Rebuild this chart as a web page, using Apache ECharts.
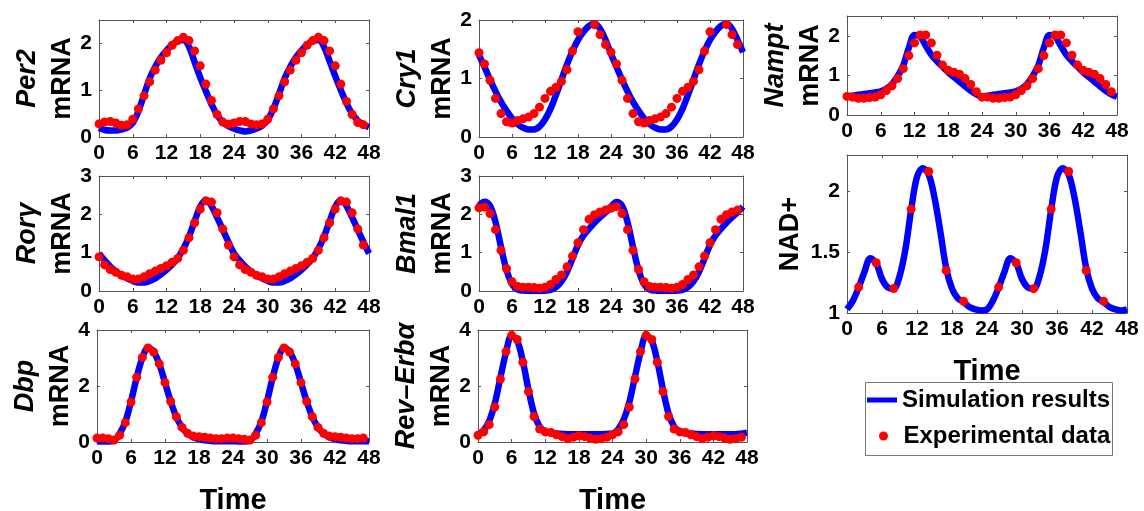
<!DOCTYPE html>
<html><head><meta charset="utf-8">
<script src="https://cdn.jsdelivr.net/npm/echarts@6/dist/echarts.min.js"></script>
<style>html,body{margin:0;padding:0;background:#fff}#c{width:1144px;height:511px}</style>
</head><body><div id="c"></div><script>
// ---- data ----
const simHours = [0,1,2,3,4,5,6,7,8,9,10,11,12,13,14,15,16,17,18,19,20,21,22,23,24,25,26,27,28,29,30,31,32,33,34,35,36,37,38,39,40,41,42,43,44,45,46,47,48];
const expHours = [0,1,2,3,4,5,6,7,8,9,10,11,12,13,14,15,16,17,18,19,20,21,22,23,24,25,26,27,28,29,30,31,32,33,34,35,36,37,38,39,40,41,42,43,44,45,46,47];
const cry1ExpHours = [0,1,2,3,4,5,6,7,8,9,10,11,12,13,14,15,16,17,18,21,22,23,24,25,26,27,28,29,30,31,32,33,34,35,36,37,38,39,40,41,42,45,46,47];
const nadExpHours = [2,5,8,11,14,17,20,23,26,29,32,35,38,41,44,47];
const xTicks = [0,6,12,18,24,30,36,42,48];

const per2Sim = [0.19,0.15,0.14,0.14,0.16,0.2,0.3,0.55,0.9,1.25,1.5,1.7,1.85,1.97,2.05,2.07,1.93,1.6,1.27,0.98,0.7,0.47,0.32,0.23,0.18,0.14,0.12,0.14,0.18,0.24,0.37,0.6,0.92,1.25,1.5,1.7,1.85,1.97,2.05,2.07,1.93,1.62,1.3,1.0,0.72,0.5,0.35,0.27,0.21];
const per2Exp = [0.28,0.32,0.33,0.30,0.25,0.26,0.38,0.6,0.88,1.18,1.43,1.64,1.8,1.96,2.06,2.13,2.06,1.84,1.52,1.13,0.78,0.48,0.32,0.27,0.30,0.33,0.33,0.28,0.26,0.28,0.38,0.6,0.88,1.18,1.43,1.64,1.8,1.96,2.06,2.13,2.06,1.84,1.52,1.13,0.76,0.48,0.31,0.26];

const cry1Sim = [1.40,1.2,0.98,0.78,0.6,0.45,0.32,0.22,0.16,0.13,0.13,0.18,0.3,0.48,0.72,0.98,1.24,1.47,1.66,1.8,1.9,1.94,1.85,1.66,1.42,1.2,0.98,0.78,0.6,0.45,0.32,0.22,0.16,0.13,0.13,0.18,0.3,0.48,0.72,0.98,1.24,1.47,1.66,1.8,1.9,1.94,1.85,1.66,1.45];
const cry1Exp = [1.44,1.25,0.97,0.66,0.40,0.26,0.24,0.28,0.31,0.34,0.40,0.51,0.66,0.78,0.85,0.95,1.15,1.47,1.80,1.92,1.75,1.58,1.45,1.25,0.97,0.66,0.40,0.26,0.24,0.28,0.31,0.34,0.40,0.51,0.66,0.78,0.85,0.95,1.15,1.47,1.80,1.92,1.75,1.58];

const namptSim = [0.47,0.49,0.51,0.53,0.55,0.57,0.6,0.66,0.78,0.98,1.25,1.7,2.02,1.98,1.75,1.52,1.36,1.22,1.08,0.96,0.84,0.72,0.61,0.52,0.47,0.49,0.51,0.53,0.55,0.57,0.6,0.66,0.78,0.98,1.25,1.7,2.02,1.98,1.75,1.52,1.36,1.22,1.08,0.96,0.84,0.72,0.61,0.52,0.46];
const namptExp = [0.47,0.45,0.42,0.42,0.44,0.45,0.51,0.62,0.74,0.92,1.17,1.5,1.82,2.02,2.02,1.82,1.51,1.26,1.13,1.08,1.03,0.92,0.77,0.59,0.45,0.45,0.42,0.42,0.44,0.45,0.51,0.62,0.74,0.92,1.17,1.5,1.82,2.02,2.02,1.82,1.51,1.26,1.13,1.08,1.03,0.92,0.77,0.59];

const rorgSim = [0.98,0.8,0.64,0.51,0.41,0.33,0.26,0.22,0.22,0.26,0.33,0.43,0.55,0.69,0.86,1.1,1.42,1.82,2.2,2.38,2.22,1.92,1.6,1.28,0.98,0.8,0.64,0.51,0.41,0.33,0.26,0.22,0.22,0.26,0.33,0.43,0.55,0.69,0.86,1.1,1.42,1.82,2.2,2.38,2.22,1.92,1.6,1.28,0.98];
const rorgExp = [0.89,0.68,0.56,0.49,0.41,0.37,0.31,0.31,0.37,0.45,0.52,0.59,0.66,0.75,0.85,1.06,1.39,1.78,2.14,2.35,2.32,2.04,1.62,1.2,0.89,0.68,0.56,0.49,0.41,0.37,0.31,0.31,0.37,0.45,0.52,0.59,0.66,0.75,0.85,1.06,1.39,1.78,2.14,2.35,2.32,2.04,1.62,1.2];

const bmal1Sim = [2.23,2.33,2.22,1.8,1.15,0.55,0.18,0.04,0.01,0.0,0.0,0.0,0.01,0.03,0.1,0.25,0.5,0.85,1.2,1.45,1.62,1.78,1.92,2.05,2.2,2.32,2.22,1.8,1.15,0.55,0.18,0.04,0.01,0.0,0.0,0.0,0.01,0.03,0.1,0.25,0.5,0.85,1.2,1.45,1.62,1.78,1.92,2.05,2.2];
const bmal1Exp = [2.17,2.19,2.02,1.6,1.06,0.58,0.24,0.12,0.10,0.10,0.09,0.07,0.10,0.17,0.30,0.42,0.63,0.91,1.26,1.6,1.87,1.99,2.06,2.11,2.16,2.2,2.02,1.6,1.06,0.56,0.24,0.12,0.10,0.10,0.09,0.07,0.10,0.17,0.30,0.42,0.63,0.91,1.26,1.6,1.87,1.99,2.06,2.11];

const nadSim = [1.03,1.1,1.21,1.34,1.45,1.41,1.28,1.21,1.2,1.3,1.52,1.85,2.12,2.19,2.14,1.95,1.67,1.37,1.2,1.12,1.09,1.05,1.03,1.02,1.03,1.1,1.21,1.34,1.45,1.41,1.28,1.21,1.2,1.3,1.52,1.85,2.12,2.19,2.14,1.95,1.67,1.37,1.2,1.12,1.09,1.05,1.03,1.02,1.03];
const nadExp = [1.213,1.413,1.202,1.855,2.164,1.35,1.096,0.99,1.213,1.413,1.20,1.855,2.164,1.35,1.096,0.99];

const dbpSim = [0.03,0.02,0.02,0.05,0.3,0.72,1.45,2.3,3.0,3.36,3.22,2.78,2.12,1.45,0.9,0.52,0.3,0.17,0.1,0.06,0.04,0.03,0.03,0.03,0.03,0.02,0.02,0.05,0.3,0.72,1.45,2.3,3.0,3.36,3.22,2.78,2.12,1.45,0.9,0.52,0.3,0.17,0.1,0.06,0.04,0.03,0.03,0.03,0.03];
const dbpExp = [0.14,0.14,0.12,0.07,0.24,0.69,1.43,2.31,3.02,3.36,3.21,2.79,2.12,1.45,0.9,0.52,0.31,0.21,0.19,0.17,0.14,0.12,0.12,0.14,0.14,0.12,0.1,0.07,0.24,0.69,1.43,2.31,3.02,3.36,3.21,2.79,2.12,1.45,0.9,0.52,0.31,0.21,0.19,0.17,0.14,0.12,0.12,0.14];

const revSim = [0.27,0.42,0.75,1.38,2.3,3.2,3.8,3.62,2.88,1.88,1.02,0.55,0.38,0.32,0.3,0.29,0.28,0.28,0.28,0.28,0.28,0.28,0.28,0.29,0.3,0.45,0.8,1.42,2.32,3.2,3.8,3.62,2.88,1.88,1.02,0.55,0.38,0.32,0.3,0.29,0.28,0.28,0.28,0.28,0.28,0.28,0.28,0.3,0.33];
const revExp = [0.24,0.36,0.62,1.25,2.25,3.23,3.81,3.66,2.85,1.8,0.91,0.46,0.36,0.34,0.26,0.19,0.12,0.17,0.22,0.19,0.14,0.1,0.12,0.17,0.26,0.36,0.62,1.25,2.25,3.23,3.81,3.66,2.85,1.8,0.91,0.46,0.36,0.34,0.26,0.19,0.12,0.17,0.22,0.19,0.14,0.1,0.12,0.17];

const geneLabels = ['Per2','Cry1','Nampt','Ror\u03B3','Bmal1','NAD+','Dbp','Rev\u2013Erb\u03B1'];
const yMins = [0,0,0,0,0,1,0,0];
const yMaxs = [2.5,2,2.5,3,3,2.3,4,4];
const yIntervals = [1,1,1,1,1,0.5,2,2];
const simSeries = [per2Sim,cry1Sim,namptSim,rorgSim,bmal1Sim,nadSim,dbpSim,revSim];
const expSeries = [per2Exp,cry1Exp,namptExp,rorgExp,bmal1Exp,nadExp,dbpExp,revExp];
const expTimes = [expHours,cry1ExpHours,expHours,expHours,expHours,nadExpHours,expHours,expHours];
const legendNames = ['Simulation results','Experimental data'];
const xName = 'Time';

// ---- layout / style ----
const FONT = "'Liberation Sans', Arial, Helvetica, sans-serif";
const AX = '#555';
const layout = [
  {left:99, top:20, width:270, height:117},
  {left:479, top:20, width:264, height:117},
  {left:847, top:16, width:270, height:99},
  {left:99, top:176, width:270, height:115},
  {left:479, top:176, width:264, height:115},
  {left:847, top:155, width:280, height:158},
  {left:97, top:330, width:272, height:112},
  {left:478, top:330, width:269, height:112}
];
const showTime = [false,false,false,false,false,true,true,true];
const timeGap = [0,0,0,0,0,44,44,44];

const grids = [], xAxes = [], yAxes = [], series = [];
const lineAx = {show:true, onZero:false, lineStyle:{color:AX, width:1}};
const tickAx = {show:true, inside:true, length:3, lineStyle:{color:AX, width:1}};
const lblStyle = {color:'#000', fontFamily:FONT, fontWeight:'bold', fontSize:21};

layout.forEach((g, i) => {
  grids.push({left:g.left, top:g.top, width:g.width, height:g.height, containLabel:false, outerBoundsMode:'none', show:false});
  const xb = {
    type:'value', gridIndex:i, position:'bottom', min:xTicks[0], max:xTicks[xTicks.length-1], interval:xTicks[1]-xTicks[0],
    axisLine:lineAx, axisTick:tickAx, splitLine:{show:false},
    axisLabel:Object.assign({margin:6}, lblStyle)
  };
  if (showTime[i]) {
    Object.assign(xb, {name:xName, nameLocation:'middle', nameGap:timeGap[i], nameMoveOverlap:false,
      nameTextStyle:{color:'#000', fontFamily:FONT, fontWeight:'bold', fontSize:29}});
  }
  xAxes.push(xb);
  xAxes.push({type:'value', gridIndex:i, position:'top', min:xTicks[0], max:xTicks[xTicks.length-1], interval:xTicks[1]-xTicks[0],
    axisLine:lineAx, axisTick:tickAx, axisLabel:{show:false}, splitLine:{show:false}});
  const single = geneLabels[i] === 'NAD+';
  const yl = {
    type:'value', gridIndex:i, position:'left', min:yMins[i], max:yMaxs[i], interval:yIntervals[i],
    axisLine:lineAx, axisTick:tickAx, splitLine:{show:false},
    axisLabel:Object.assign({margin:7, showMaxLabel: (yMaxs[i] - yMins[i]) % yIntervals[i] === 0}, lblStyle),
    nameLocation:'middle', nameRotate:90, nameMoveOverlap:false
  };
  if (single) {
    yl.name = geneLabels[i];
    yl.nameGap = 43;
    yl.nameTextStyle = {color:'#000', fontFamily:FONT, fontWeight:'bold', fontSize:27};
  } else {
    yl.name = '{g|' + geneLabels[i] + '}\n{m|mRNA}';
    yl.nameGap = 19;
    yl.nameTextStyle = {rich:{
      g:{color:'#000', fontFamily:FONT, fontWeight:'bold', fontStyle:'italic', fontSize:27, lineHeight:35},
      m:{color:'#000', fontFamily:FONT, fontWeight:'bold', fontSize:27, lineHeight:35}
    }};
  }
  yAxes.push(yl);
  yAxes.push({type:'value', gridIndex:i, position:'right', min:yMins[i], max:yMaxs[i], interval:yIntervals[i],
    axisLine:lineAx, axisTick:tickAx, axisLabel:{show:false}, splitLine:{show:false}});

  series.push({
    type:'line', name:legendNames[0], xAxisIndex:2*i, yAxisIndex:2*i,
    data: simHours.map((t, j) => [t, simSeries[i][j]]),
    smooth:0.35, symbol:'none', showSymbol:false, clip:true, z:2,
    lineStyle:{color:'#0000ff', width:6.5}, itemStyle:{color:'#0000ff'}
  });
  series.push({
    type:'scatter', name:legendNames[1], xAxisIndex:2*i, yAxisIndex:2*i,
    data: expTimes[i].map((t, j) => [t, expSeries[i][j]]),
    symbol:'circle', symbolSize:9, z:3, itemStyle:{color:'#ff0000', opacity:1}
  });
});

const legTxt = {color:'#000', fontFamily:FONT, fontWeight:'bold', fontSize:24};
const option = {
  animation:false,
  backgroundColor:'#fff',
  grid:grids, xAxis:xAxes, yAxis:yAxes, series:series,
  legend:[
    {data:[{name:legendNames[0], icon:'rect'}], left:867, top:388, padding:0, itemWidth:30, itemHeight:5, itemGap:0, textStyle:legTxt, selectedMode:false},
    {data:[{name:legendNames[1], icon:'circle', itemStyle:{opacity:1}}], left:879, top:424, padding:0, itemWidth:30, itemHeight:9, itemGap:0, textStyle:legTxt, selectedMode:false}
  ],
  graphic:[{type:'rect', silent:true, shape:{x:865.5, y:382.5, width:247, height:73}, style:{fill:'none', stroke:'#777', lineWidth:1}}]
};
const chart = echarts.init(document.getElementById('c'), null, {renderer:'canvas'});
chart.setOption(option);
</script></body></html>
